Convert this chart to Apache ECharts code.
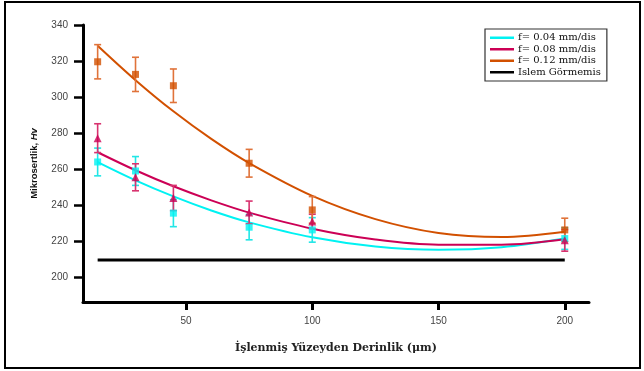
<!DOCTYPE html>
<html>
<head>
<meta charset="utf-8">
<script src="https://cdn.jsdelivr.net/npm/echarts@6/dist/echarts.min.js"></script>
<style>
  html, body { margin: 0; padding: 0; background: #fff; }
  #chart { width: 644px; height: 371px; }
</style>
</head>
<body>
<div id="chart"></div>
<script>
// Measured depths (µm) and microhardness (Hv) with error-bar half widths
const depth = [15, 30, 45, 75, 100, 200];
const hvF004 = [264.0, 259.0, 235.6, 227.8, 226.3, 221.5];
const errF004 = [7.7, 8.0, 7.5, 7.0, 6.8, 6.0];
const hvF008 = [277.2, 255.5, 244.0, 236.0, 231.0, 220.5];
const errF008 = [8.0, 7.5, 7.0, 6.3, 4.0, 6.0];
const hvF012 = [319.6, 312.6, 306.3, 263.3, 237.4, 226.3];
const errF012 = [9.5, 9.5, 9.3, 7.7, 7.4, 6.5];

// Trend curves (second-order fits) sampled along depth
const fitDepth = [15, 30, 45, 60, 75, 100, 125, 150, 175, 200];
const fitF004 = [263.9, 253.8, 244.9, 237.1, 230.5, 222.2, 217.1, 215.3, 216.7, 221.5];
const fitF008 = [269.4, 259.4, 250.5, 242.7, 235.9, 227.0, 221.0, 218.1, 218.1, 221.1];
const fitF012 = [328.5, 309.4, 292.1, 276.8, 263.4, 245.2, 232.3, 224.6, 222.4, 225.3];

// Untreated reference level
const untreatedDepth = [15, 200];
const untreatedHv = [209.6, 209.6];

// Axis ticks
const yTicks = [200, 220, 240, 260, 280, 300, 320, 340];
const xTicks = [50, 100, 150, 200];

const names = ['f= 0.04 mm/dis', 'f= 0.08 mm/dis', 'f= 0.12 mm/dis', 'Islem Görmemis'];
const lineColors = ['#00f2f2', '#cc0055', '#d25000', '#000000'];
const errColors = ['#22e6e6', '#d8336f', '#e0733a'];

const zip = (xs, ys) => xs.map((x, i) => [x, ys[i]]);
const errRows = (ys, es) => depth.map((x, i) => [x, ys[i] - es[i], ys[i] + es[i]]);

function errorBar(color) {
  return function (params, api) {
    const x = api.value(0);
    const lo = api.coord([x, api.value(1)]);
    const hi = api.coord([x, api.value(2)]);
    const cap = 3.5;
    const style = { stroke: color, lineWidth: 1.6 };
    return {
      type: 'group',
      children: [
        { type: 'line', shape: { x1: lo[0], y1: lo[1], x2: hi[0], y2: hi[1] }, style },
        { type: 'line', shape: { x1: lo[0] - cap, y1: lo[1], x2: lo[0] + cap, y2: lo[1] }, style },
        { type: 'line', shape: { x1: hi[0] - cap, y1: hi[1], x2: hi[0] + cap, y2: hi[1] }, style }
      ]
    };
  };
}

const fits = [fitF004, fitF008, fitF012];
const hvs = [hvF004, hvF008, hvF012];
const errs = [errF004, errF008, errF012];
const symbols = ['rect', 'triangle', 'rect'];

const series = [];
fits.forEach((fit, i) => {
  series.push({
    name: names[i], type: 'line', data: zip(fitDepth, fit),
    smooth: 0.35, symbol: 'none', z: 2,
    lineStyle: { color: lineColors[i], width: 2 },
    itemStyle: { color: lineColors[i] }
  });
});
series.push({
  name: names[3], type: 'line', data: zip(untreatedDepth, untreatedHv),
  symbol: 'none', z: 2,
  lineStyle: { color: '#000', width: 3 },
  itemStyle: { color: '#000' }
});
hvs.forEach((hv, i) => {
  series.push({
    name: 'err' + i, type: 'custom', z: 3,
    renderItem: errorBar(errColors[i]),
    data: errRows(hv, errs[i]),
    encode: { x: 0, y: [1, 2] }
  });
  series.push({
    name: 'pt' + i, type: 'scatter', z: 4,
    symbol: symbols[i], symbolSize: i === 1 ? 8 : 7,
    itemStyle: { color: lineColors[i] },
    data: zip(depth, hv)
  });
});

const chart = echarts.init(document.getElementById('chart'), null, { renderer: 'canvas' });
chart.setOption({
  animation: false,
  backgroundColor: '#fff',
  grid: { left: 83, right: 55, top: 25, bottom: 69 },
  legend: {
    data: names,
    orient: 'vertical',
    left: 485, top: 29,
    padding: [3, 6, 3, 5],
    itemGap: 0,
    itemWidth: 24, itemHeight: 2.5,
    icon: 'rect',
    borderColor: '#333', borderWidth: 1.2,
    textStyle: { fontFamily: 'DejaVu Serif', fontSize: 10, color: '#111', lineHeight: 11.5, padding: [0, 0, 0, -1] }
  },
  xAxis: {
    type: 'value', min: 9.2, max: 209.6,
    name: 'İşlenmiş Yüzeyden Derinlik (μm)',
    nameLocation: 'middle', nameGap: 41,
    nameTextStyle: { fontFamily: 'DejaVu Serif', fontWeight: 'bold', fontSize: 11, color: '#222' },
    axisLine: { lineStyle: { color: '#000', width: 3 } },
    axisTick: { customValues: xTicks, length: 8, lineStyle: { color: '#000', width: 3 } },
    axisLabel: { customValues: xTicks, margin: 14, fontFamily: 'Liberation Sans', fontSize: 10, color: '#444' },
    splitLine: { show: false }
  },
  yAxis: {
    type: 'value', min: 186.3, max: 340,
    name: '{a|Mikrosertlik, }{b|Hv}',
    nameLocation: 'middle', nameGap: 44, nameRotate: 90,
    nameTextStyle: {
      rich: {
        a: { fontFamily: 'Liberation Sans', fontWeight: 'bold', fontSize: 9.5, color: '#111' },
        b: { fontFamily: 'Liberation Sans', fontWeight: 'bold', fontStyle: 'italic', fontSize: 9.5, color: '#111' }
      }
    },
    axisLine: { show: true, lineStyle: { color: '#000', width: 3 } },
    axisTick: { show: true, customValues: yTicks, length: 9, lineStyle: { color: '#000', width: 2.5 } },
    axisLabel: { customValues: yTicks, margin: 15, fontFamily: 'Liberation Sans', fontSize: 10, color: '#444' },
    splitLine: { show: false }
  },
  graphic: [{
    type: 'rect', silent: true,
    shape: { x: 5, y: 2, width: 635, height: 366 },
    style: { fill: 'none', stroke: '#000', lineWidth: 2 }
  }],
  series
});
</script>
</body>
</html>
